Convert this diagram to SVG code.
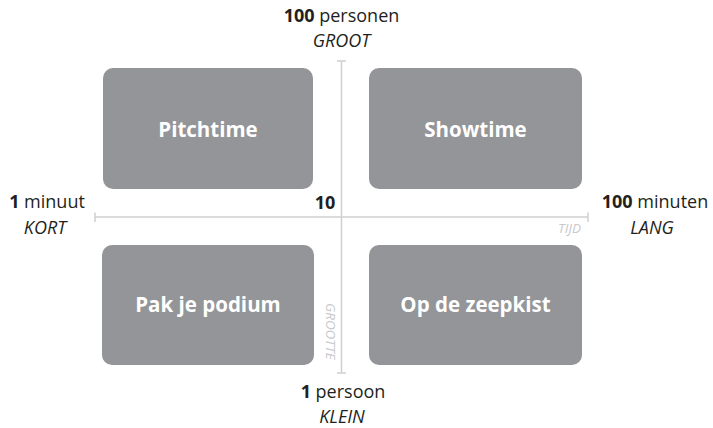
<svg xmlns="http://www.w3.org/2000/svg" width="713" height="428" viewBox="0 0 713 428">
<style>
.box{fill:#939598}
.bl{font-family:"Open Sans","Noto Sans",sans-serif;font-weight:bold;font-size:20.5px;fill:#fff;text-anchor:middle}
.lbl{font-family:"Open Sans","Noto Sans",sans-serif;font-size:18px;fill:#231f20;text-anchor:middle}
.it{font-style:italic}
.ax{stroke:#cfd0d2;stroke-width:1.5;fill:none}
.axl{font-family:"Open Sans","Noto Sans",sans-serif;font-style:italic;font-size:13.5px;fill:#c8c9cb}
</style>
<rect width="713" height="428" fill="#fff"/>
<g id="connectors">
<path class="ax" d="M95,217 H588 M95,212.5 V222 M588,212.5 V222"/>
<path class="ax" d="M341.5,61 V373 M337,61 H346 M337,373 H346"/>
</g>
<g id="pitchtime"><rect class="box" x="103" y="68" width="210" height="121" rx="10"/><text class="bl" x="208" y="137">Pitchtime</text></g>
<g id="showtime"><rect class="box" x="369" y="68" width="213" height="121" rx="10"/><text class="bl" x="475.5" y="137">Showtime</text></g>
<g id="pakjepodium"><rect class="box" x="102" y="245" width="212" height="120" rx="10"/><text class="bl" x="208" y="312">Pak je podium</text></g>
<g id="opdezeepkist"><rect class="box" x="369" y="245" width="213" height="120" rx="10"/><text class="bl" x="475.5" y="312">Op de zeepkist</text></g>
<g id="labels">
<text class="lbl" x="341.5" y="22"><tspan font-weight="bold">100</tspan> personen</text>
<text class="lbl it" x="341.5" y="47">GROOT</text>
<text class="lbl" x="47" y="208"><tspan font-weight="bold">1</tspan> minuut</text>
<text class="lbl it" x="45" y="234">KORT</text>
<text class="lbl" x="655" y="208"><tspan font-weight="bold">100</tspan> minuten</text>
<text class="lbl it" x="652" y="234">LANG</text>
<text class="lbl" x="325" y="209" font-weight="bold">10</text>
<text class="lbl" x="343" y="398"><tspan font-weight="bold">1</tspan> persoon</text>
<text class="lbl it" x="342" y="423">KLEIN</text>
<text class="axl" x="581" y="233" text-anchor="end">TIJD</text>
<text class="axl" x="0" y="0" transform="translate(326,303) rotate(90)">GROOTTE</text>
</g>
</svg>
